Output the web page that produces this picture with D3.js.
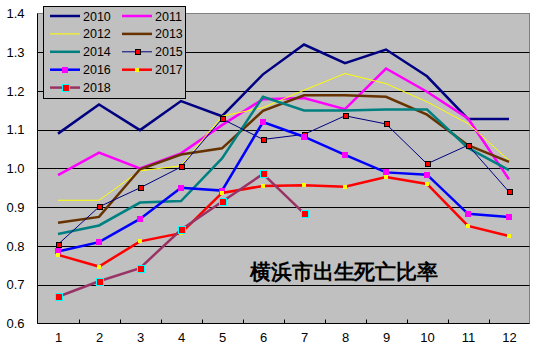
<!DOCTYPE html>
<html><head><meta charset="utf-8">
<script src="https://cdn.jsdelivr.net/npm/d3@7"></script>
<style>
body{margin:0;background:#fff;}
text{font-family:"Liberation Sans",Arial,sans-serif;}
</style></head>
<body><svg id="c" width="543" height="358"></svg>
<script>
const months = [1,2,3,4,5,6,7,8,9,10,11,12];
const yTicks = [0.6,0.7,0.8,0.9,1.0,1.1,1.2,1.3,1.4];
const seriesNames = ["2010","2011","2012","2013","2014","2015","2016","2017","2018"];
const v2010 = [1.090,1.165,1.099,1.174,1.135,1.243,1.320,1.272,1.307,1.238,1.128,1.128];
const v2011 = [0.983,1.041,1.000,1.039,1.112,1.179,1.182,1.153,1.258,1.198,1.129,0.972];
const v2012 = [0.918,0.918,0.994,1.007,1.135,1.157,1.202,1.245,1.219,1.172,1.116,1.021];
const v2013 = [0.860,0.875,0.998,1.036,1.052,1.149,1.189,1.189,1.185,1.139,1.060,1.017];
const v2014 = [0.831,0.853,0.912,0.916,1.026,1.185,1.150,1.150,1.152,1.152,1.053,0.996];
const v2015 = [0.804,0.901,0.950,1.004,1.128,1.075,1.088,1.136,1.115,1.012,1.060,0.940];
const v2016 = [0.786,0.810,0.870,0.950,0.943,1.120,1.082,1.035,0.990,0.984,0.883,0.875];
const v2017 = [0.777,0.747,0.812,0.833,0.937,0.955,0.957,0.953,0.978,0.960,0.852,0.826];
const v2018 = [0.669,0.709,0.743,0.842,0.914,0.986,0.884,null,null,null,null,null];
const title = "横浜市出生死亡比率";

const styles = [
 {c:"#000080",w:2.5,m:null},
 {c:"#ff00ff",w:2.5,m:null},
 {c:"#ffff00",w:1,m:null},
 {c:"#663300",w:2.5,m:null},
 {c:"#008080",w:2.5,m:null},
 {c:"#000080",w:1,m:{f:"#ff0000",s:"#000000",sz:5}},
 {c:"#0000ff",w:2.5,m:{f:"#ff00ff",s:null,sz:6}},
 {c:"#ff0000",w:2.5,m:{f:"#ffff00",s:null,sz:4}},
 {c:"#993366",w:2.5,m:{f:"#ff0000",s:"#00ffff",sz:7}}
];
const allVals = [v2010,v2011,v2012,v2013,v2014,v2015,v2016,v2017,v2018];

const L=37.5,R=529.5,T=13.5,B=323.5;
const svg = d3.select("#c");
const x = d3.scaleLinear().domain([0.5,12.5]).range([L,R]);
const y = d3.scaleLinear().domain([0.6,1.4]).range([B,T]);

svg.append("rect").attr("x",L).attr("y",T).attr("width",R-L).attr("height",B-T)
  .attr("fill","#c0c0c0").attr("stroke","#808080").attr("stroke-width",1);

// gridlines
svg.append("g").selectAll("line").data(yTicks.filter(d=>d>0.65&&d<1.35)).join("line")
  .attr("x1",L).attr("x2",R).attr("y1",d=>Math.round(y(d))+0.5).attr("y2",d=>Math.round(y(d))+0.5)
  .attr("stroke","#000").attr("stroke-width",1);

// axes lines
svg.append("line").attr("x1",L).attr("x2",L).attr("y1",T).attr("y2",B).attr("stroke","#000");
svg.append("line").attr("x1",L).attr("x2",R).attr("y1",B).attr("y2",B).attr("stroke","#000");

// x tick marks at boundaries
svg.append("g").selectAll("line").data(d3.range(1.5,12.5,1)).join("line")
  .attr("x1",d=>Math.round(x(d))+0.5).attr("x2",d=>Math.round(x(d))+0.5)
  .attr("y1",B).attr("y2",B-4).attr("stroke","#000");

// x labels
const xa = svg.append("g").attr("transform",`translate(0,${B})`)
  .call(d3.axisBottom(x).tickValues(months).tickSize(0).tickPadding(9).tickFormat(d3.format("d")));
xa.select(".domain").remove();
xa.selectAll("text").attr("font-size",13).attr("fill","#000").attr("font-family","Liberation Sans, Arial, sans-serif");

// y labels
const ya = svg.append("g").attr("transform",`translate(${L},0)`)
  .call(d3.axisLeft(y).tickValues(yTicks).tickSize(0).tickPadding(13).tickFormat(d3.format(".1f")));
ya.select(".domain").remove();
ya.selectAll("text").attr("font-size",13).attr("fill","#000").attr("font-family","Liberation Sans, Arial, sans-serif");

// lines
const line = d3.line().defined(d=>d.v!=null).x(d=>x(d.m)).y(d=>y(d.v));
allVals.forEach((vals,i)=>{
  const st = styles[i];
  const data = months.map((m,j)=>({m:m,v:vals[j]}));
  svg.append("path").datum(data).attr("d",line).attr("fill","none")
    .attr("stroke",st.c).attr("stroke-width",st.w).attr("stroke-linejoin","miter");
  if(st.m){
    svg.append("g").selectAll("rect").data(data.filter(d=>d.v!=null)).join("rect")
      .attr("x",d=>Math.round(x(d.m)-st.m.sz/2)+(st.m.s?0.5:0)).attr("y",d=>Math.round(y(d.v)-st.m.sz/2)+(st.m.s?0.5:0))
      .attr("width",st.m.sz).attr("height",st.m.sz)
      .attr("fill",st.m.f).attr("stroke",st.m.s||"none").attr("stroke-width",st.m.s?1:0)
      .attr("shape-rendering","crispEdges");
  }
});

// title
svg.append("text").attr("x",250).attr("y",279).text(title)
  .attr("font-family","'Noto Sans CJK JP',sans-serif").attr("font-weight","bold")
  .attr("font-size",20.5).attr("fill","#000").attr("textLength",188);

// legend
const lg = svg.append("g");
lg.append("rect").attr("x",43.5).attr("y",6.5).attr("width",142).attr("height",92)
  .attr("fill","#c0c0c0").attr("stroke","#000");
seriesNames.forEach((n,i)=>{
  const st = styles[i];
  const col = i%2, row = Math.floor(i/2);
  const lx = col===0?50:122, cy = 16+row*17.9;
  lg.append("line").attr("x1",lx).attr("x2",lx+30).attr("y1",cy).attr("y2",cy)
    .attr("stroke",st.c).attr("stroke-width",st.w);
  if(st.m){
    lg.append("rect").attr("x",Math.round(lx+15-st.m.sz/2)+(st.m.s?0.5:0)).attr("y",Math.round(cy-st.m.sz/2)+(st.m.s?0.5:0))
      .attr("width",st.m.sz).attr("height",st.m.sz).attr("fill",st.m.f)
      .attr("stroke",st.m.s||"none").attr("stroke-width",st.m.s?1:0)
      .attr("shape-rendering","crispEdges");
  }
  lg.append("text").attr("x",lx+33).attr("y",cy).attr("dy","0.36em").text(n)
    .attr("font-size",12.5).attr("fill","#000");
});
</script></body></html>
